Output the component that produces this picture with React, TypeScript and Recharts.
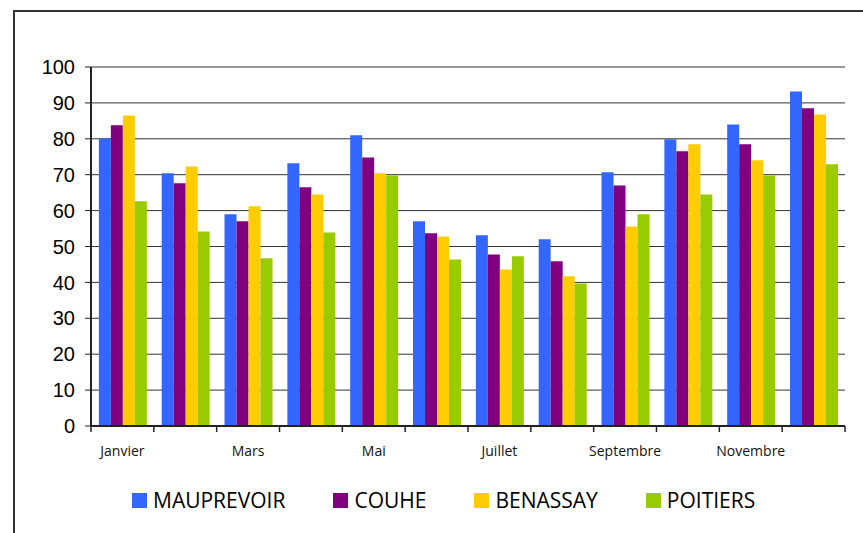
import React from "react";
import {
  BarChart,
  Bar,
  XAxis,
  YAxis,
  CartesianGrid,
  Legend,
  ReferenceLine,
} from "recharts";

const months = [
  "Janvier",
  "Février",
  "Mars",
  "Avril",
  "Mai",
  "Juin",
  "Juillet",
  "Août",
  "Septembre",
  "Octobre",
  "Novembre",
  "Décembre",
];

const mauprevoir = [80.1, 70.4, 59.0, 73.2, 81.0, 57.0, 53.1, 52.0, 70.7, 79.9, 84.0, 93.2];
const couhe = [83.8, 67.6, 57.0, 66.5, 74.8, 53.7, 47.8, 45.9, 67.0, 76.5, 78.5, 88.5];
const benassay = [86.5, 72.3, 61.2, 64.5, 70.4, 52.8, 43.6, 41.7, 55.6, 78.5, 74.0, 86.8];
const poitiers = [62.6, 54.2, 46.7, 53.9, 69.8, 46.4, 47.3, 39.7, 59.0, 64.5, 69.8, 72.9];

const yTicks = [0, 10, 20, 30, 40, 50, 60, 70, 80, 90, 100];

const series = [
  { key: "MAUPREVOIR", color: "#3366FF" },
  { key: "COUHE", color: "#800080" },
  { key: "BENASSAY", color: "#FFCC00" },
  { key: "POITIERS", color: "#99CC00" },
];

const chartData = months.map((month, i) => ({
  month,
  MAUPREVOIR: mauprevoir[i],
  COUHE: couhe[i],
  BENASSAY: benassay[i],
  POITIERS: poitiers[i],
}));

const MonthTick = (props: any) => {
  const { x, y, payload, index } = props;
  const half = payload.offset || 0;
  const last = index === months.length - 1;
  return (
    <g>
      <line x1={x - half} x2={x - half} y1={y - 8} y2={y - 2} stroke="#222" strokeWidth={1.5} />
      {last && (
        <line x1={x + half} x2={x + half} y1={y - 8} y2={y - 2} stroke="#222" strokeWidth={1.5} />
      )}
      {index % 2 === 0 && (
        <text
          x={x}
          y={y + 22}
          textAnchor="middle"
          fontSize={14}
          fontFamily="'Open Sans', sans-serif"
          fill="#111"
        >
          {payload.value}
        </text>
      )}
    </g>
  );
};

const renderLegend = () => (
  <div
    style={{
      display: "flex",
      height: 30,
      alignItems: "center",
      paddingLeft: 132,
      fontFamily: "'Open Sans', sans-serif",
      fontSize: 21,
      color: "#000",
    }}
  >
    {series.map((s) => (
      <div key={s.key} style={{ display: "flex", alignItems: "center", marginRight: 48 }}>
        <span style={{ width: 15, height: 15, background: s.color, marginRight: 6, display: "inline-block" }} />
        <span>{s.key}</span>
      </div>
    ))}
  </div>
);

export default function App() {
  return (
    <div style={{ position: "absolute", left: 0, top: 0, width: 863, height: 533, background: "#fff", overflow: "hidden" }}>
      <div
        style={{
          position: "absolute",
          left: 13,
          top: 10,
          width: 900,
          height: 600,
          borderLeft: "2px solid #333",
          borderTop: "2px solid #333",
        }}
      />
      <BarChart
        width={863}
        height={533}
        data={chartData}
        margin={{ top: 67, right: 18, left: 0, bottom: 18 }}
        barCategoryGap="12.5%"
        barGap={0}
        style={{ position: "absolute", left: 0, top: 0 }}
      >
        <CartesianGrid vertical={false} stroke="#333" yAxisId="left" />
        <XAxis
          dataKey="month"
          interval={0}
          height={59}
          tickLine={false}
          axisLine={{ stroke: "#222", strokeWidth: 2 }}
          tick={<MonthTick />}
        />
        <YAxis
          yAxisId="left"
          domain={[0, 100]}
          ticks={yTicks}
          width={91}
          tickSize={6}
          tickMargin={10}
          axisLine={{ stroke: "#222", strokeWidth: 2 }}
          tickLine={{ stroke: "#222" }}
          tick={{ fill: "#000", fontSize: 20, fontFamily: "'Liberation Sans', Arial, sans-serif" }}
        />
        <YAxis
          yAxisId="right"
          orientation="right"
          domain={[0, 100]}
          width={0}
          tick={false}
          tickLine={false}
          axisLine={{ stroke: "#999", strokeWidth: 2 }}
        />
        <ReferenceLine yAxisId="left" y={100} stroke="#999" strokeWidth={2} />
        <Legend verticalAlign="bottom" content={renderLegend} />
        {series.map((s) => (
          <Bar key={s.key} yAxisId="left" dataKey={s.key} fill={s.color} isAnimationActive={false} />
        ))}
      </BarChart>
    </div>
  );
}
